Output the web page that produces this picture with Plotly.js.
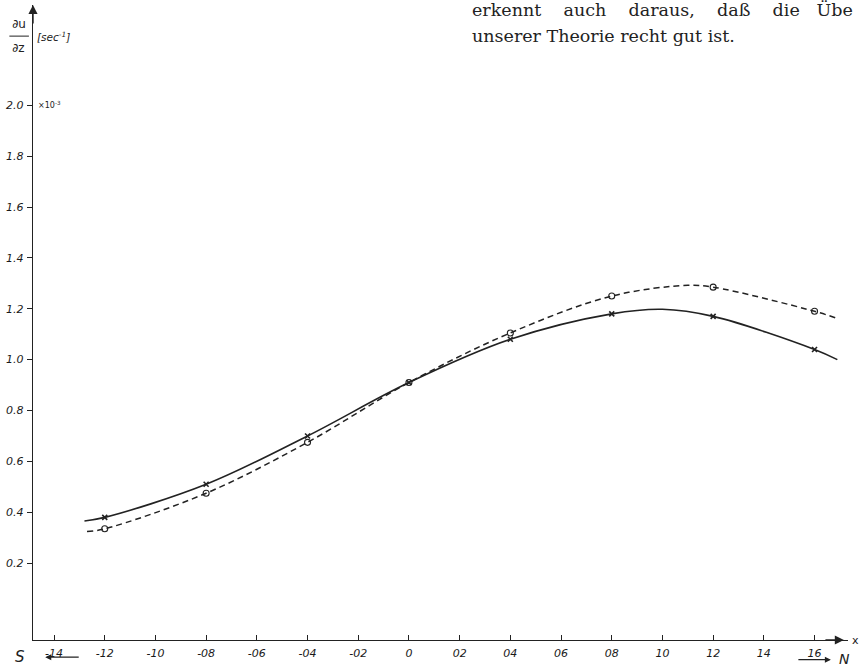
<!DOCTYPE html>
<html>
<head>
<meta charset="utf-8">
<script src="https://cdn.plot.ly/plotly-3.0.1.min.js"></script>
<style>html,body{margin:0;padding:0;background:#fff;}#chart{width:861px;height:666px;}</style>
</head>
<body>
<div id="chart"></div>
<script>
// measured stations (x) and values (du/dz in 10^-3 sec^-1)
const pointX = [-1.2, -0.8, -0.4, 0, 0.4, 0.8, 1.2, 1.6];
const solidPointY = [0.38, 0.51, 0.70, 0.91, 1.08, 1.18, 1.17, 1.04];
const dashedPointY = [0.335, 0.475, 0.675, 0.91, 1.105, 1.25, 1.285, 1.19];

// drawn curves
const solidCurveX = [-1.28, -1.2, -0.8, -0.4, 0, 0.4, 0.8, 1.0, 1.2, 1.6, 1.69];
const solidCurveY = [0.366, 0.38, 0.51, 0.70, 0.91, 1.08, 1.18, 1.198, 1.17, 1.04, 1.0];
const dashedCurveX = [-1.27, -1.2, -0.8, -0.4, 0, 0.4, 0.8, 1.1, 1.2, 1.6, 1.69];
const dashedCurveY = [0.324, 0.335, 0.475, 0.675, 0.91, 1.105, 1.25, 1.292, 1.285, 1.19, 1.162];

const xTickVals = [-1.4, -1.2, -1.0, -0.8, -0.6, -0.4, -0.2, 0, 0.2, 0.4, 0.6, 0.8, 1.0, 1.2, 1.4, 1.6];
const xTickText = ["-14", "-12", "-10", "-08", "-06", "-04", "-02", "0", "02", "04", "06", "08", "10", "12", "14", "16"];
const yTickVals = [0.2, 0.4, 0.6, 0.8, 1.0, 1.2, 1.4, 1.6, 1.8, 2.0];
const yTickText = ["0.2", "0.4", "0.6", "0.8", "1.0", "1.2", "1.4", "1.6", "1.8", "2.0"];

const ink = "#222";
const traces = [
  {x: solidCurveX, y: solidCurveY, mode: "lines", line: {color: ink, width: 1.6, shape: "spline", smoothing: 1}, hoverinfo: "skip"},
  {x: dashedCurveX, y: dashedCurveY, mode: "lines", line: {color: ink, width: 1.5, shape: "spline", smoothing: 1, dash: "6px,4px"}, hoverinfo: "skip"},
  {x: pointX, y: solidPointY, mode: "markers", marker: {symbol: "x-thin", size: 5, line: {color: ink, width: 1.6}}},
  {x: pointX, y: dashedPointY, mode: "markers", marker: {symbol: "circle-open", size: 6, color: ink, line: {color: ink, width: 1.1}}}
];

const tickFont = {family: "DejaVu Sans, sans-serif", size: 11, color: "#1a1a1a", style: "italic"};
const lblFont = {family: "DejaVu Sans, sans-serif", size: 12, color: ink};
const layout = {
  width: 861, height: 666,
  margin: {l: 33, r: 13, t: 5, b: 26, pad: 0},
  paper_bgcolor: "#fff", plot_bgcolor: "#fff",
  showlegend: false,
  xaxis: {
    range: [-1.483, 1.732], showgrid: false, zeroline: false,
    showline: true, linecolor: ink, linewidth: 1.4,
    ticks: "inside", ticklen: 5, tickwidth: 1, tickcolor: ink,
    tickvals: xTickVals, ticktext: xTickText, tickfont: tickFont,
    ticklabelstandoff: 2
  },
  yaxis: {
    range: [-0.102, 2.394], showgrid: false, zeroline: false,
    showline: true, linecolor: ink, linewidth: 1.4,
    ticks: "outside", ticklen: 5, tickwidth: 1, tickcolor: ink,
    tickvals: yTickVals, ticktext: yTickText, tickfont: tickFont,
    ticklabelstandoff: 1
  },
  shapes: [
    {type: "line", xref: "paper", yref: "paper", x0: -0.029, x1: -0.005, y0: 0.951, y1: 0.951, line: {color: ink, width: 1}}
  ],
  annotations: [
    // axis arrows
    {xref: "paper", yref: "paper", x: 0, y: 1.0, ax: 0, ay: 20, showarrow: true, arrowhead: 2, arrowsize: 1.3, arrowwidth: 1.4, arrowcolor: ink, text: ""},
    {xref: "paper", yref: "paper", x: 0.995, y: 0, ax: -20, ay: 0, showarrow: true, arrowhead: 2, arrowsize: 1.3, arrowwidth: 1.4, arrowcolor: ink, text: ""},
    // y label
    {xref: "paper", yref: "paper", x: -0.0172, y: 0.970, xanchor: "center", yanchor: "middle", text: "∂u", showarrow: false, font: lblFont},
    {xref: "paper", yref: "paper", x: -0.0172, y: 0.932, xanchor: "center", yanchor: "middle", text: "∂z", showarrow: false, font: lblFont},
    {xref: "paper", yref: "paper", x: 0.002, y: 0.950, xanchor: "left", yanchor: "middle", text: "[sec<sup>-1</sup>]", showarrow: false, font: {family: "DejaVu Sans", size: 10.5, color: ink, style: "italic"}},
    {xref: "paper", yref: "y", x: 0.004, y: 2.0, xanchor: "left", yanchor: "middle", text: "×10<sup>-3</sup>", showarrow: false, font: {family: "DejaVu Sans", size: 8, color: ink}},
    // direction labels
    {xref: "paper", yref: "paper", x: -0.024, y: -0.026, xanchor: "left", yanchor: "middle", text: "<i>S</i>", showarrow: false, font: {family: "DejaVu Sans", size: 15, color: ink}},
    {xref: "paper", yref: "paper", x: 0.015, y: -0.027, ax: 35, ay: 0, showarrow: true, arrowhead: 2, arrowsize: 1, arrowwidth: 1.2, arrowcolor: ink, text: ""},
    {xref: "paper", yref: "paper", x: 0.979, y: -0.031, ax: -34, ay: 0, showarrow: true, arrowhead: 2, arrowsize: 1, arrowwidth: 1.2, arrowcolor: ink, text: ""},
    {xref: "paper", yref: "paper", x: 0.987, y: -0.030, xanchor: "left", yanchor: "middle", text: "<i>N</i>", showarrow: false, font: {family: "DejaVu Sans", size: 14, color: ink}},
    {xref: "paper", yref: "paper", x: 1.016, y: 0.0, xanchor: "right", yanchor: "middle", text: "x", showarrow: false, font: {family: "DejaVu Sans", size: 11, color: ink}},
    // scanned book text
    {xref: "paper", yref: "paper", x: 0.536, y: 0.992, xanchor: "left", yanchor: "middle", text: "erkennt    auch    daraus,    daß    die   Übe", showarrow: false, font: {family: "DejaVu Serif", size: 17.5, color: "#222"}},
    {xref: "paper", yref: "paper", x: 0.536, y: 0.951, xanchor: "left", yanchor: "middle", text: "unserer Theorie recht gut ist.", showarrow: false, font: {family: "DejaVu Serif", size: 17.5, color: "#222"}}
  ]
};

Plotly.newPlot("chart", traces, layout, {staticPlot: true, displayModeBar: false});
</script>
</body>
</html>
